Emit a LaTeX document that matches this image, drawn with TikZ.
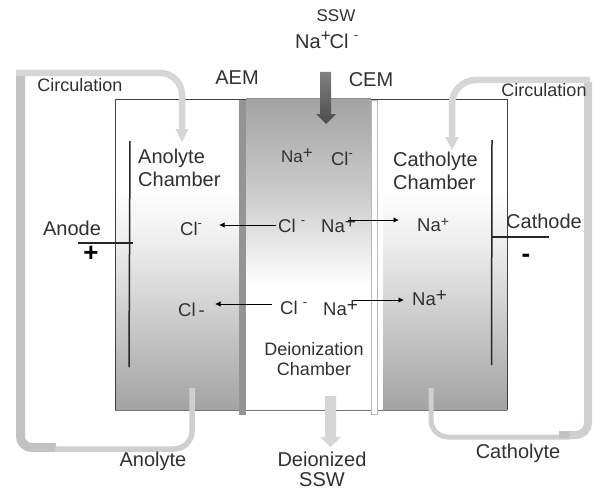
\documentclass[tikz,border=0pt]{standalone}
\usepackage{fontspec}
\setmainfont{Liberation Sans}
\usetikzlibrary{arrows.meta}
\definecolor{ink}{HTML}{303030}
\definecolor{pipeA}{HTML}{C2C2C2}
\definecolor{pipeB}{HTML}{CFCFCF}
\definecolor{pipeC}{HTML}{D6D6D6}
\newcommand{\fs}[1]{\fontsize{#1}{#1}\selectfont}
\newcommand{\upmark}[1]{\raisebox{0.42em}{\fs{13}#1}}
\newcommand{\upplus}{\raisebox{0.2em}{\fs{19}+}}
\tikzset{
 lab/.style={inner sep=0pt,text=ink,font=\fs{20}},
 labs/.style={inner sep=0pt,text=ink,font=\fs{18}},
 ion/.style={inner sep=0pt,text=ink,font=\fs{18.5}},
 flow/.style={draw=black,line width=0.9pt,-{Latex[length=5.5pt,width=5.5pt]}},
 elec/.style={draw=black!85,line width=1.5pt},
 wall/.style={draw=black!75,line width=1pt},
 pipe/.style={line width=#1,line cap=butt,line join=round,rounded corners=14pt},
}
\begin{document}
\begin{tikzpicture}[x=1pt,y=-1pt]
\useasboundingbox (0,0) rectangle (593,492);
% chambers
\fill[white] (115,99) rectangle (240,190);
\shade[top color=white,bottom color=black!8] (115,190) rectangle (240,250);
\shade[top color=black!8,bottom color=black!36] (115,249.5) rectangle (240,410);
\shade[top color=black!36,bottom color=black!19] (246,99) rectangle (372,200);
\shade[top color=black!19,bottom color=white] (246,199.5) rectangle (372,285);
\fill[white] (246,285) rectangle (372,410);
\fill[white] (378,99) rectangle (507,190);
\shade[top color=white,bottom color=black!8] (383,190) rectangle (507,250);
\shade[top color=black!8,bottom color=black!36] (383,249.5) rectangle (507,410);
% outer walls
\draw[wall] (115,410) -- (115,99) -- (246,99);
\draw[draw=black!45,line width=1pt] (246,98.5) -- (371,98.5);
\draw[wall] (371,99) -- (507,99) -- (507,410);
\draw[draw=black!55,line width=1pt] (115,410) -- (507,410);
% membranes
\fill[black!42] (239,100) rectangle (246,415);
\filldraw[draw=black!28,fill=white,line width=1pt] (371.5,100) rectangle (377.5,414);
% electrodes
\draw[elec] (130,141) -- (129,367);
\draw[elec] (78,243) -- (133,243);
\draw[elec] (492,140) -- (491.5,365);
\draw[elec] (492,237) -- (549,237);
% pipes left
\draw[pipeA,pipe=9pt,rounded corners=11pt] (20.5,76) -- (20.5,447.5) -- (56,447.5);
\draw[pipeB,pipe=5.5pt,rounded corners=18pt] (192,388) -- (192,449) -- (55,449);
\draw[pipeC,pipe=6.5pt,rounded corners=22pt] (16,73) -- (182,73) -- (182,130);
\fill[pipeC] (175.5,129) -- (188.5,129) -- (182,142) -- cycle;
% pipes right
\draw[pipeB,pipe=8pt,rounded corners=12pt] (588,82) -- (588,435) -- (559,435);
\draw[pipeB,pipe=5pt,rounded corners=17pt] (431,388) -- (431,437) -- (570,437);
\fill[pipeA] (559,431) rectangle (570,438);
\draw[pipeC,pipe=6.5pt,rounded corners=24pt] (590,80) -- (452,80) -- (452,138);
\fill[pipeC] (445,137) -- (459,137) -- (452,150) -- cycle;
% feed arrows
\shade[top color=black!50,bottom color=black!70] (320,72) -- (331,72) -- (331,114) -- (336,114) -- (326,124) -- (316,114) -- (320,114) -- cycle;
\fill[black!16] (325,396) -- (336,396) -- (336,437) -- (341,437) -- (330.5,447) -- (320,437) -- (325,437) -- cycle;
% labels
\node[inner sep=0pt,text=ink,font=\fs{17}] (ssw) at (336,16) {SSW};
\node[lab,anchor=west] (feed) at (295,40) {Na\raisebox{0.35em}{\fs{17}+}\kern-1pt Cl \upmark{-}};
\node[lab] (aem) at (237,78) {AEM};
\node[lab] (cem) at (371,80) {CEM};
\node[labs] (circl) at (80,85) {Circulation};
\node[labs] (circr) at (544,90) {Circulation};
\node[lab,anchor=west,align=left] (anc) at (138,168) {Anolyte\\[3pt]Chamber};
\node[lab,anchor=west,align=left] (cac) at (393,171) {Catholyte\\[3pt]Chamber};
\node[lab] (anode) at (72,228) {Anode};
\node[lab] (cathode) at (544,221) {Cathode};
\node[inner sep=0pt,text=black,font=\fs{26}\bfseries] (plus) at (91,254) {+};
\node[inner sep=0pt,text=black,font=\fs{26}\bfseries] (minus) at (526,258) {-};
\node[ion,font=\fs{17}] (nat) at (297,156) {Na\raisebox{0.25em}{\fs{17}+}};
\node[ion] (clt) at (342,159) {Cl\upmark{-}};
% ions
\node[ion,anchor=west] (cl1) at (180,229) {Cl\upmark{-}};
\node[ion,anchor=west] (cl2) at (278,226) {Cl \upmark{-}};
\node[ion,anchor=west] (na1) at (321,225) {Na\upplus};
\node[ion,anchor=west] (na2) at (417,225) {Na\raisebox{0.3em}{\fs{14}+}};
\node[ion,anchor=west] (cl3) at (178,310) {Cl\,-};
\node[ion,anchor=west] (cl4) at (280,308) {Cl \upmark{-}};
\node[ion,anchor=west] (na3) at (323,308) {Na\upplus};
\node[ion,anchor=west] (na4) at (412,298) {Na\upplus};
\draw[flow] (cl2.west) ++(-2,-1) -- (219,225);
\draw[flow] (cl4.west) ++(-8,-4) -- (215,304);
\draw[flow] (na1.east) ++(-8,-5) -- (399,220);
\draw[flow] (na3.east) ++(-5,-8) -- (404,300);
\node[labs,align=center] (dch) at (314,359) {Deionization\\[2pt]Chamber};
\node[lab,align=center] (dssw) at (322,469) {Deionized\\SSW};
\node[lab] (anol) at (153,461) {Anolyte};
\node[lab] (cato) at (518,453) {Catholyte};
\end{tikzpicture}
\end{document}
